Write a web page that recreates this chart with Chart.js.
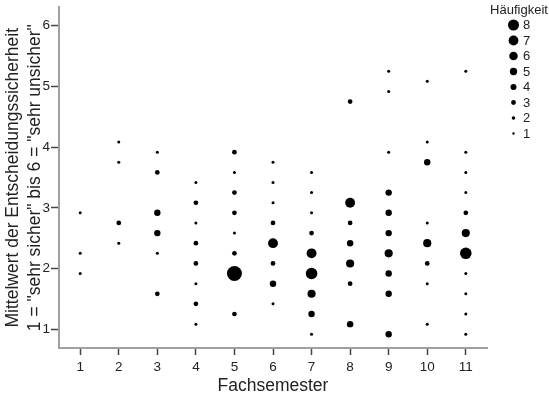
<!DOCTYPE html>
<html>
<head>
<meta charset="utf-8">
<script src="https://cdn.jsdelivr.net/npm/chart.js@4.4.1/dist/chart.umd.min.js"></script>
<style>
    body { margin: 0; background: #fff; }
</style>
</head>
<body>
<canvas id="bubbleChart" width="549" height="397"></canvas>
<script>
// Fachsemester of each bubble
const semesters = [
    1, 1, 1,
    2, 2, 2, 2,
    3, 3, 3, 3, 3, 3,
    4, 4, 4, 4, 4, 4, 4, 4,
    5, 5, 5, 5, 5, 5, 5, 5,
    6, 6, 6, 6, 6, 6, 6, 6,
    7, 7, 7, 7, 7, 7, 7, 7, 7,
    8, 8, 8, 8, 8, 8, 8,
    9, 9, 9, 9, 9, 9, 9, 9, 9, 9,
    10, 10, 10, 10, 10, 10, 10, 10,
    11, 11, 11, 11, 11, 11, 11, 11, 11, 11, 11
];
// Mittelwert der Entscheidungssicherheit
const means = [
    2.917, 2.25, 1.917,
    4.083, 3.75, 2.75, 2.417,
    3.917, 3.583, 2.917, 2.583, 2.25, 1.583,
    3.417, 3.083, 2.75, 2.417, 2.083, 1.75, 1.417, 1.083,
    3.917, 3.583, 3.25, 2.917, 2.583, 2.25, 1.917, 1.25,
    3.75, 3.417, 3.083, 2.75, 2.417, 2.083, 1.75, 1.417,
    3.583, 3.25, 2.917, 2.583, 2.25, 1.917, 1.583, 1.25, 0.917,
    4.75, 3.083, 2.75, 2.417, 2.083, 1.75, 1.083,
    5.25, 4.917, 3.917, 3.25, 2.917, 2.583, 2.25, 1.917, 1.583, 0.917,
    5.083, 4.083, 3.75, 2.75, 2.417, 2.083, 1.75, 1.083,
    5.25, 3.917, 3.583, 3.25, 2.917, 2.583, 2.25, 1.917, 1.583, 1.25, 0.917
];
// Häufigkeit
const counts = [
    1, 1, 1,
    1, 1, 2, 1,
    1, 2, 3, 3, 1, 2,
    1, 2, 1, 2, 2, 1, 2, 1,
    2, 1, 2, 2, 1, 2, 8, 2,
    1, 1, 1, 2, 5, 2, 3, 1,
    1, 1, 1, 2, 5, 6, 4, 3, 1,
    2, 5, 2, 3, 4, 2, 3,
    1, 1, 1, 3, 3, 3, 4, 3, 3, 3,
    1, 1, 3, 1, 4, 2, 1, 1,
    1, 1, 1, 1, 2, 4, 6, 1, 1, 1, 1
];

const xTicks = [1, 2, 3, 4, 5, 6, 7, 8, 9, 10, 11];
const yTicks = [1, 2, 3, 4, 5, 6];
const legendCounts = [8, 7, 6, 5, 4, 3, 2, 1];
const legendTitle = 'Häufigkeit';
const xTitle = 'Fachsemester';
const yTitle = ['Mittelwert der Entscheidungssicherheit', '1 = "sehr sicher" bis 6 = "sehr unsicher"'];

const FONT = '"Liberation Sans", Arial, sans-serif';

function bubbleRadius(n) {
    return 1.5 + (n - 1) * 0.857;
}

function legendRadius(n) {
    return 0.55 + n * 0.62;
}

const points = semesters.map((s, i) => ({ x: s, y: means[i], r: bubbleRadius(counts[i]) }));

// draws the size legend on the right
const sizeLegend = {
    id: 'sizeLegend',
    afterDraw(chart) {
        const ctx = chart.ctx;
        ctx.save();
        ctx.fillStyle = '#222';
        ctx.font = '13px ' + FONT;
        ctx.textAlign = 'center';
        ctx.textBaseline = 'middle';
        ctx.fillText(legendTitle, 519, 10);
        ctx.textAlign = 'left';
        legendCounts.forEach((n, i) => {
            const y = 25 + i * 15.5;
            ctx.fillStyle = '#000';
            ctx.beginPath();
            ctx.arc(513.5, y, legendRadius(n), 0, Math.PI * 2);
            ctx.fill();
            ctx.fillStyle = '#222';
            ctx.fillText(String(n), 523, y + 0.5);
        });
        ctx.restore();
    }
};

new Chart(document.getElementById('bubbleChart'), {
    type: 'bubble',
    data: {
        datasets: [{
            data: points,
            backgroundColor: '#000',
            borderWidth: 0
        }]
    },
    options: {
        responsive: false,
        animation: false,
        layout: { padding: { left: 0, right: 62, top: 0, bottom: 0 } },
        plugins: {
            legend: { display: false },
            tooltip: { enabled: false }
        },
        scales: {
            x: {
                type: 'linear',
                min: 0.45,
                max: 11.55,
                afterBuildTicks: scale => { scale.ticks = xTicks.map(v => ({ value: v })); },
                afterFit: scale => {
                    scale.height = 49;
                    scale.paddingLeft = 0;
                    scale.paddingRight = 0;
                },
                grid: { drawOnChartArea: false, drawTicks: true, tickLength: 7, tickColor: '#444', tickWidth: 1.5 },
                border: { color: '#a0a0a0', width: 2 },
                ticks: { color: '#222', font: { family: FONT, size: 13.5 }, padding: 4 },
                title: {
                    display: true,
                    text: xTitle,
                    color: '#222',
                    font: { family: FONT, size: 17.5 },
                    padding: { top: 0, bottom: 0 }
                }
            },
            y: {
                type: 'linear',
                min: 0.69,
                max: 6.3,
                afterBuildTicks: scale => { scale.ticks = yTicks.map(v => ({ value: v })); },
                afterFit: scale => {
                    scale.width = 59;
                    scale.paddingTop = 0;
                    scale.paddingBottom = 0;
                },
                grid: { drawOnChartArea: false, drawTicks: true, tickLength: 8, tickColor: '#444', tickWidth: 1.5 },
                border: { color: '#a0a0a0', width: 2 },
                ticks: { color: '#222', font: { family: FONT, size: 13.5 }, padding: 1 },
                title: {
                    display: true,
                    text: yTitle,
                    color: '#222',
                    font: { family: FONT, size: 17.5, lineHeight: 1.257 },
                    padding: { top: 2, bottom: 0 }
                }
            }
        }
    },
    plugins: [sizeLegend]
});
</script>
</body>
</html>
